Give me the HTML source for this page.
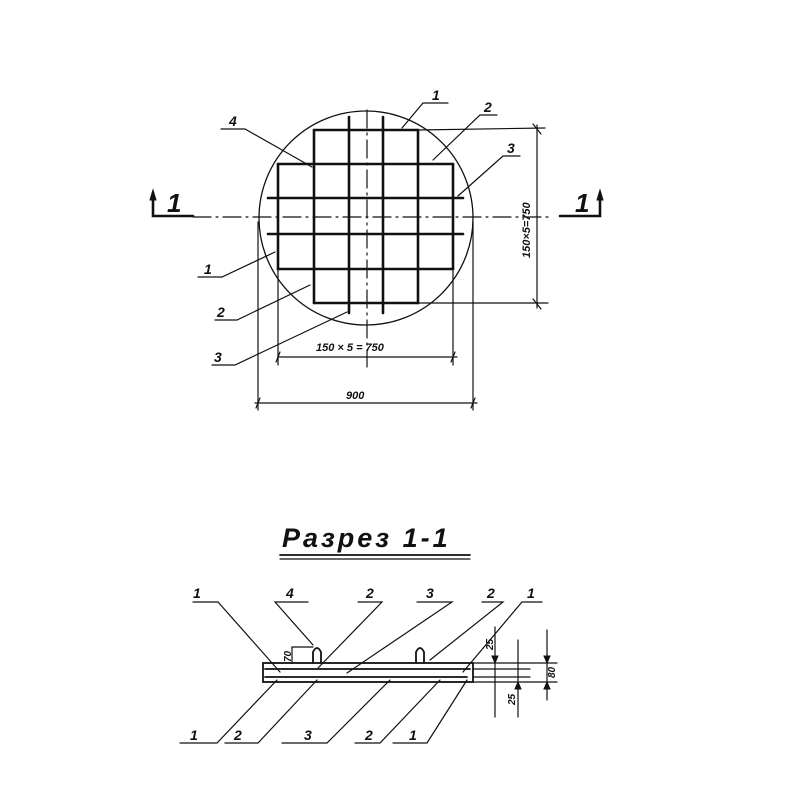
<!DOCTYPE html>
<html><head><meta charset="utf-8"><style>
html,body{margin:0;padding:0;background:#fff;}
svg{display:block;}
text{font-family:"Liberation Sans",sans-serif;font-style:italic;font-weight:bold;fill:#111;}
</style></head><body>
<svg width="800" height="800" viewBox="0 0 800 800" xmlns="http://www.w3.org/2000/svg">
<g stroke="#111" fill="none" stroke-linecap="round">
<!-- circle -->
<circle cx="366" cy="218" r="107" stroke-width="1.3"/>
<!-- grid horizontals -->
<g stroke-width="2.6">
<line x1="314" y1="130" x2="418" y2="130"/>
<line x1="278" y1="164" x2="453" y2="164"/>
<line x1="268" y1="198" x2="463" y2="198"/>
<line x1="268" y1="234" x2="463" y2="234"/>
<line x1="278" y1="269" x2="453" y2="269"/>
<line x1="314" y1="303" x2="418" y2="303"/>
<line x1="278" y1="164" x2="278" y2="269"/>
<line x1="314" y1="130" x2="314" y2="303"/>
<line x1="349" y1="117" x2="349" y2="313"/>
<line x1="383" y1="117" x2="383" y2="313"/>
<line x1="418" y1="130" x2="418" y2="303"/>
<line x1="453" y1="164" x2="453" y2="269"/>
</g>
<!-- center lines -->
<line x1="367" y1="110" x2="367" y2="367" stroke-width="1.2" stroke-dasharray="18,5,2,5"/>
<line x1="193" y1="217" x2="553" y2="217" stroke-width="1.2" stroke-dasharray="18,5,2,5"/>
<!-- section markers -->
<polyline points="153,193 153,216 193,216" stroke-width="2.6"/>
<polygon points="150,200 153,190 156,200" fill="#111" stroke-width="1"/>
<polyline points="600,193 600,216 560,216" stroke-width="2.6"/>
<polygon points="597,200 600,190 603,200" fill="#111" stroke-width="1"/>
<!-- right dimension -->
<g stroke-width="1.2">
<line x1="418" y1="130" x2="545" y2="128"/>
<line x1="418" y1="303" x2="548" y2="303"/>
<line x1="537" y1="125" x2="537" y2="308"/>
<line x1="533" y1="124" x2="541" y2="134"/>
<line x1="533" y1="299" x2="541" y2="309"/>
<!-- bottom dims -->
<line x1="278" y1="269" x2="278" y2="365"/>
<line x1="453" y1="269" x2="453" y2="365"/>
<line x1="278" y1="357" x2="457" y2="357"/>
<line x1="276" y1="362" x2="280" y2="352"/>
<line x1="451" y1="362" x2="455" y2="352"/>
<line x1="258" y1="222" x2="258" y2="410"/>
<line x1="473" y1="222" x2="473" y2="410"/>
<line x1="255" y1="403" x2="477" y2="403"/>
<line x1="256" y1="408" x2="260" y2="398"/>
<line x1="471" y1="408" x2="475" y2="398"/>
<!-- leaders top -->
<polyline points="221,129 245,129 312,167"/>
<polyline points="448,103 423,103 402,128"/>
<polyline points="497,115 480,115 433,160"/>
<polyline points="520,156 503,156 458,196"/>
<polyline points="198,277 222,277 275,252"/>
<polyline points="215,320 237,320 310,285"/>
<polyline points="212,365 235,365 347,312"/>
</g>
<!-- section -->
<g stroke-width="1.8">
<line x1="280" y1="555" x2="470" y2="555"/>
<line x1="280" y1="559" x2="470" y2="559" stroke-width="1.2"/>
<rect x="263" y="663" width="210" height="19"/>
<line x1="265" y1="669" x2="470" y2="669"/>
<line x1="265" y1="677" x2="467" y2="677"/>
<path d="M313,663 V652 Q317,644 321,652 V663"/>
<path d="M416,663 V652 Q420,644 424,652 V663"/>
</g>
<g stroke-width="1.2">
<line x1="292" y1="647" x2="313" y2="647"/>
<line x1="292" y1="647" x2="292" y2="663"/>
<line x1="473" y1="663" x2="557" y2="663"/>
<line x1="473" y1="682" x2="557" y2="682"/>
<line x1="473" y1="669" x2="530" y2="669"/>
<line x1="473" y1="677" x2="530" y2="677"/>
<line x1="495" y1="627" x2="495" y2="717"/>
<line x1="518" y1="640" x2="518" y2="717"/>
<line x1="547" y1="630" x2="547" y2="700"/>
<!-- leaders -->
<polyline points="193,602 218,602 280,672"/>
<polyline points="308,602 275,602 313,645"/>
<polyline points="358,602 382,602 318,668"/>
<polyline points="417,602 452,602 347,673"/>
<polyline points="482,602 503,602 430,660"/>
<polyline points="542,602 522,602 463,672"/>
<polyline points="180,743 217,743 277,680"/>
<polyline points="225,743 258,743 317,680"/>
<polyline points="282,743 327,743 390,680"/>
<polyline points="355,743 380,743 440,680"/>
<polyline points="393,743 427,743 467,680"/>
</g>
<g stroke-width="1">
<polygon points="492,656 495,663 498,656" fill="#111"/>
<polygon points="515,689 518,682 521,689" fill="#111"/>
<polygon points="544,656 547,663 550,656" fill="#111"/>
<polygon points="544,689 547,682 550,689" fill="#111"/>
</g>
</g>
<!-- text -->
<g font-size="14">
<text x="229" y="126">4</text>
<text x="432" y="100">1</text>
<text x="484" y="112">2</text>
<text x="507" y="153">3</text>
<text x="204" y="274">1</text>
<text x="217" y="317">2</text>
<text x="214" y="362">3</text>
<text x="193" y="598">1</text>
<text x="286" y="598">4</text>
<text x="366" y="598">2</text>
<text x="426" y="598">3</text>
<text x="487" y="598">2</text>
<text x="527" y="598">1</text>
<text x="190" y="740">1</text>
<text x="234" y="740">2</text>
<text x="304" y="740">3</text>
<text x="365" y="740">2</text>
<text x="409" y="740">1</text>
</g>
<text x="167" y="212" font-size="26">1</text>
<text x="575" y="212" font-size="26">1</text>
<text x="316" y="351" font-size="11">150 × 5 = 750</text>
<text x="346" y="399" font-size="11">900</text>
<text x="0" y="0" font-size="11" transform="translate(530,258) rotate(-90)">150×5=750</text>
<text x="282" y="547" font-size="27" letter-spacing="3">Разрез 1-1</text>
<text x="0" y="0" font-size="10" transform="translate(291,662) rotate(-90)">70</text>
<text x="0" y="0" font-size="10" transform="translate(493,650) rotate(-90)">25</text>
<text x="0" y="0" font-size="10" transform="translate(515,705) rotate(-90)">25</text>
<text x="0" y="0" font-size="10" transform="translate(555,678) rotate(-90)">80</text>
</svg>
</body></html>
